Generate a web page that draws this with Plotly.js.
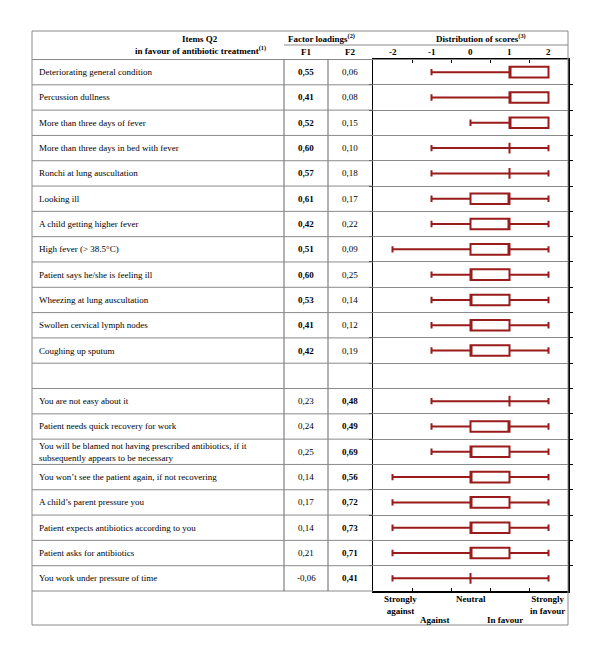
<!DOCTYPE html>
<html>
<head>
<meta charset="utf-8">
<script src="https://cdn.plot.ly/plotly-3.0.1.min.js"></script>
<style>html,body{margin:0;padding:0;background:#fff;}#chart{width:600px;height:657px;}</style>
</head>
<body>
<div id="chart"></div>
<script>
// ---- data ----
const items = [
  "Deteriorating general condition",
  "Percussion dullness",
  "More than three days of fever",
  "More than three days in bed with fever",
  "Ronchi at lung auscultation",
  "Looking ill",
  "A child getting higher fever",
  "High fever (> 38.5°C)",
  "Patient says he/she is feeling ill",
  "Wheezing at lung auscultation",
  "Swollen cervical lymph nodes",
  "Coughing up sputum",
  "",
  "You are not easy about it",
  "Patient needs quick recovery for work",
  "You will be blamed not having prescribed antibiotics, if it<br>subsequently appears to be necessary",
  "You won’t see the patient again, if not recovering",
  "A child’s parent pressure you",
  "Patient expects antibiotics according to you",
  "Patient asks for antibiotics",
  "You work under pressure of time"
];
const f1 = ["0,55","0,41","0,52","0,60","0,57","0,61","0,42","0,51","0,60","0,53","0,41","0,42","",
            "0,23","0,24","0,25","0,14","0,17","0,14","0,21","-0,06"];
const f2 = ["0,06","0,08","0,15","0,10","0,18","0,17","0,22","0,09","0,25","0,14","0,12","0,19","",
            "0,48","0,49","0,69","0,56","0,72","0,73","0,71","0,41"];
const boldFactor = [1,1,1,1,1,1,1,1,1,1,1,1,0,2,2,2,2,2,2,2,2]; // which loading is bold
const minScore = [-1,-1, 0,-1,-1,-1,-1,-2,-1,-1,-1,-1,null,-1,-1,-1,-2,-2,-2,-2,-2];
const q1Score  = [ 1, 1, 1, 1, 1, 0, 0, 0, 0, 0, 0, 0,null, 1, 0, 0, 0, 0, 0, 0, 0];
const medScore = [ 1, 1, 1, 1, 1, 1, 1, 1, 0, 0, 0, 0,null, 1, 1, 0, 0, 0, 0, 0, 0];
const q3Score  = [ 2, 2, 2, 1, 1, 1, 1, 1, 1, 1, 1, 1,null, 1, 1, 1, 1, 1, 1, 1, 0];
const maxScore = [ 2, 2, 2, 2, 2, 2, 2, 2, 2, 2, 2, 2,null, 2, 2, 2, 2, 2, 2, 2, 2];
const scoreTicks = [-2,-1,0,1,2];
const scaleLabels = [
  {v:-2, text:"Strongly<br>against"},
  {v:0, text:"Neutral"},
  {v:2, text:"Strongly<br>in favour"},
  {v:-1, text:"Against"},
  {v:1, text:"In favour"}
];

// ---- layout helpers ----
const W = 600, H = 657;
const px = x => x / W;
const py = y => 1 - y / H;
const FONT = "Liberation Serif, Times New Roman, serif";
const RED = "#9a1b1b";

const idx = items.map((_, i) => i).filter(i => minScore[i] !== null);

const trace = {
  type: "box",
  orientation: "h",
  y: idx,
  lowerfence: idx.map(i => minScore[i]),
  q1: idx.map(i => q1Score[i]),
  median: idx.map(i => medScore[i]),
  q3: idx.map(i => q3Score[i]),
  upperfence: idx.map(i => maxScore[i]),
  width: 0.42,
  whiskerwidth: 0.6,
  boxpoints: false,
  fillcolor: "#ffffff",
  line: {color: RED, width: 2},
  hoverinfo: "skip",
  showlegend: false
};

const annotations = [];
const shapes = [];
const tf = (size, bold) => ({family: FONT, size: size, color: "#000", weight: bold ? "bold" : "normal"});
const ann = (o) => annotations.push(Object.assign({showarrow:false, xanchor:"center", yanchor:"middle"}, o));

// header
ann({xref:"paper", yref:"paper", x:px(200), y:py(39), text:"<b>Items Q2</b>", font:tf(9,true)});
ann({xref:"paper", yref:"paper", x:px(200), y:py(50), text:"<b>in favour of antibiotic treatment<sup>(1)</sup></b>", font:tf(9,true)});
ann({xref:"paper", yref:"paper", x:px(321), y:py(38), text:"<b>Factor loadings<sup>(2)</sup></b>", font:tf(9,true)});
ann({xref:"paper", yref:"paper", x:px(306), y:py(52), text:"<b>F1</b>", font:tf(9,true)});
ann({xref:"paper", yref:"paper", x:px(350), y:py(52), text:"<b>F2</b>", font:tf(9,true)});
ann({xref:"paper", yref:"paper", x:px(481), y:py(38), text:"<b>Distribution of scores<sup>(3)</sup></b>", font:tf(9,true)});
scoreTicks.forEach(v => ann({xref:"x", yref:"paper", x:v, y:py(52), text:"<b>"+v+"</b>", font:tf(9,true)}));

// rows
items.forEach((t, i) => {
  if (t) ann({xref:"paper", yref:"y", x:px(37), y:i, xanchor:"left", align:"left", text:t, font:tf(9,false)});
  if (f1[i]) ann({xref:"paper", yref:"y", x:px(306), y:i, text: boldFactor[i]===1 ? "<b>"+f1[i]+"</b>" : f1[i], font:tf(9,false)});
  if (f2[i]) ann({xref:"paper", yref:"y", x:px(350), y:i, text: boldFactor[i]===2 ? "<b>"+f2[i]+"</b>" : f2[i], font:tf(9,false)});
});
// scale labels (placement offsets only)
const labelPlace = [
  {y:592, dx:8}, {y:592, dx:0}, {y:592, dx:-1}, {y:613, dx:3}, {y:613, dx:-5}
];
scaleLabels.forEach((s, k) => ann({xref:"x", yref:"paper", x:s.v, xshift:labelPlace[k].dx, y:py(labelPlace[k].y), yanchor:"top", text:"<b>"+s.text+"</b>", font:tf(9,true)}));

// table lines
const GRAY = "#8a8a8a";
shapes.push({type:"rect", xref:"paper", yref:"paper", x0:px(32), x1:px(568), y0:py(31), y1:py(625), line:{color:GRAY, width:1}});
shapes.push({type:"line", xref:"paper", yref:"paper", x0:px(32), x1:px(568), y0:py(59.5), y1:py(59.5), line:{color:GRAY, width:1}});
shapes.push({type:"line", xref:"paper", yref:"paper", x0:px(284), x1:px(568), y0:py(45), y1:py(45), line:{color:GRAY, width:1}});
shapes.push({type:"line", xref:"paper", yref:"paper", x0:px(32), x1:px(373), y0:py(591), y1:py(591), line:{color:GRAY, width:1}});
[284, 328].forEach(x => shapes.push({type:"line", xref:"paper", yref:"paper", x0:px(x), x1:px(x), y0:py(59.5), y1:py(591), line:{color:"#666", width:1}}));
for (let i = 0; i < items.length - 1; i++) {
  shapes.push({type:"line", xref:"paper", yref:"y", x0:px(32), x1:px(373), y0:i+0.5, y1:i+0.5, line:{color:GRAY, width:1}});
}

const rowBounds = items.slice(1).map((_, i) => i + 0.5);

const layout = {
  width: W, height: H,
  margin: {l:0, r:0, t:0, b:0},
  paper_bgcolor: "#fff", plot_bgcolor: "#fff",
  showlegend: false,
  xaxis: {
    domain: [px(373), px(568)],
    range: [-2.5, 2.5],
    tickvals: [-1.5, -0.5, 0.5, 1.5],
    ticks: "inside", ticklen: 3, tickcolor: "#000",
    showticklabels: false, showgrid: false, zeroline: false,
    showline: true, linecolor: "#000", linewidth: 1.5, mirror: "ticks",
    fixedrange: true
  },
  yaxis: {
    domain: [py(591), py(59.5)],
    range: [items.length - 0.5, -0.5],
    tickvals: rowBounds,
    ticks: "outside", ticklen: 3, tickcolor: "#000",
    showticklabels: false, showgrid: true, gridcolor: GRAY, gridwidth: 1, zeroline: false,
    showline: true, linecolor: "#000", linewidth: 1.5, mirror: "ticks",
    fixedrange: true
  },
  annotations: annotations,
  shapes: shapes
};

Plotly.newPlot("chart", [trace], layout, {staticPlot: true, displayModeBar: false});
</script>
</body>
</html>
